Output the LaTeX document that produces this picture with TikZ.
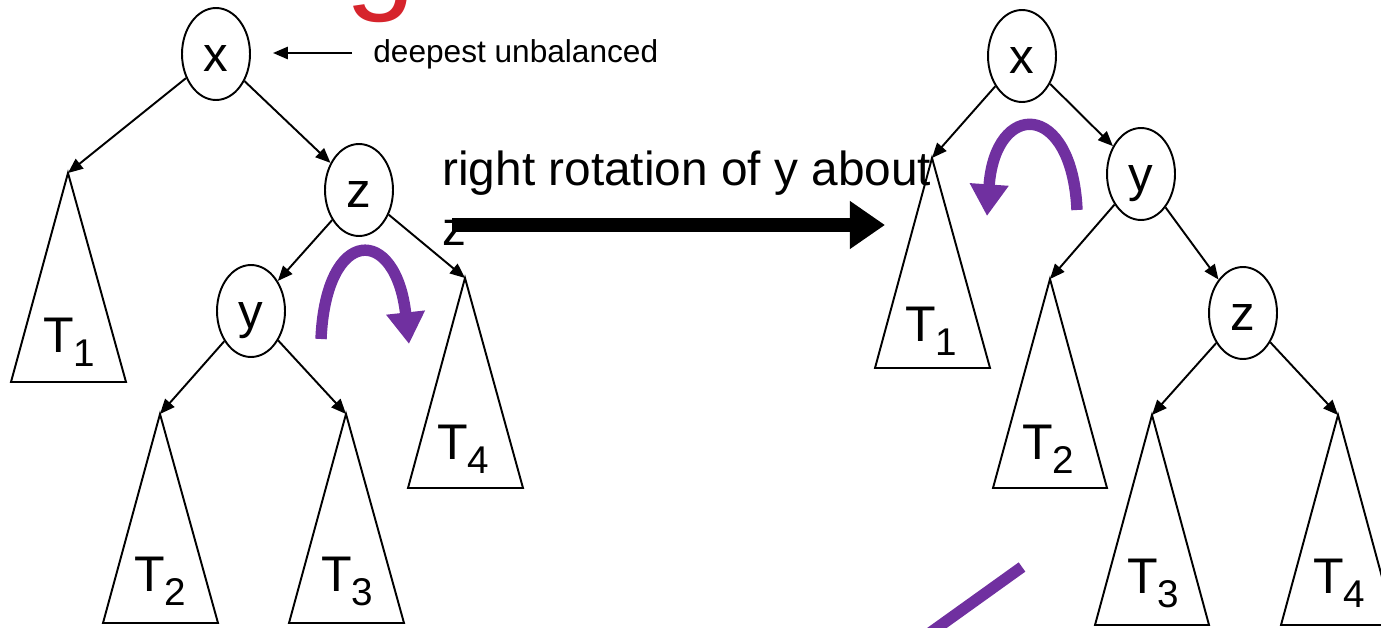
\documentclass[tikz,border=0pt]{standalone}
\usepackage{fontspec}
\setmainfont{Liberation Sans}
\usetikzlibrary{arrows.meta,shapes.geometric}
\definecolor{rotpurple}{RGB}{112,48,160}
\definecolor{titlered}{RGB}{214,36,44}
\newcommand\Tlab[1]{T\raisebox{-8pt}{\fontsize{22}{22}\selectfont #1}}
\begin{document}
\begin{tikzpicture}[x=0.02cm,y=-0.02cm,
 tnode/.style={draw, ellipse, line width=1.1pt, minimum width=1.36cm, minimum height=1.84cm, inner sep=0, text height=20.4pt, text depth=0pt, font=\fontsize{28}{28}\selectfont},
 edge/.style={line width=1.1pt, -{Triangle[length=8.5pt,width=7pt]}},
 subtree/.style={draw, line width=1.1pt, line join=miter},
 tlabel/.style={anchor=base west, inner sep=0, font=\fontsize{28.5}{28.5}\selectfont},
 rot/.style={rotpurple, line width=6.5pt, -{Triangle[length=18pt,width=21pt]}},
]
\useasboundingbox (0,0) rectangle (1381,628);

% partial title letter
\node[anchor=base west, inner sep=0, text=titlered, font=\fontsize{72}{72}\selectfont] (g) at (345,-3) {g};

% ---------- left tree ----------
\node[tnode] (lx) at (216,54) {x};
\node[tnode] (lz) at (359,190) {z};
\node[tnode] (ly) at (251,311) {y};
\coordinate (lt1) at (68,173);
\coordinate (lt2) at (160,414);
\coordinate (lt3) at (346,414);
\coordinate (lt4) at (465,278);
\draw[subtree] (lt1) -- ++(58,209) -- ++(-115,0) -- cycle;
\draw[subtree] (lt2) -- ++(58,209) -- ++(-115,0) -- cycle;
\draw[subtree] (lt3) -- ++(58,209) -- ++(-115,0) -- cycle;
\draw[subtree] (lt4) -- ++(58,210) -- ++(-115,0) -- cycle;
\draw[edge] (lx) -- (lt1);
\draw[edge] (lx) -- (lz);
\draw[edge] (lz) -- (ly);
\draw[edge] (lz) -- (lt4);
\draw[edge] (ly) -- (lt2);
\draw[edge] (ly) -- (lt3);
\node[tlabel] (l1) at (43,352) {\Tlab{1}};
\node[tlabel] (l2) at (134,591) {\Tlab{2}};
\node[tlabel] (l3) at (321,591) {\Tlab{3}};
\node[tlabel] (l4) at (437,459) {\Tlab{4}};

% note
\node[anchor=base west, inner sep=0, font=\fontsize{18}{18}\selectfont] (note) at (373,63) {deepest unbalanced};
\coordinate (noteS) at (352,53);
\coordinate (noteE) at (273,53);
\draw[edge] (noteS) -- (noteE);

% left rotation arrow
\coordinate (la1) at (321,339);
\coordinate (la2) at (409,344);
\draw[rot] (la1) .. controls (326,225) and (396,225) .. (la2);

% ---------- middle ----------
\node[anchor=base west, inner sep=0, align=left, font=\fontsize{27.2}{34}\selectfont] (lbl) at (442,245) {right rotation of y about\\z};
\coordinate (ba1) at (452,225);
\coordinate (ba2) at (885,225);
\draw[line width=8.5pt, -{Triangle[length=20pt,width=26pt]}] (ba1) -- (ba2);

% ---------- right tree ----------
\node[tnode] (rx) at (1022,56) {x};
\node[tnode] (ry) at (1141,174) {y};
\node[tnode] (rz) at (1243,313) {z};
\coordinate (rt1) at (932,158);
\coordinate (rt2) at (1050,279);
\coordinate (rt3) at (1152,415);
\coordinate (rt4) at (1338,415);
\draw[subtree] (rt1) -- ++(58,210) -- ++(-115,0) -- cycle;
\draw[subtree] (rt2) -- ++(57,209) -- ++(-114,0) -- cycle;
\draw[subtree] (rt3) -- ++(57,210) -- ++(-114,0) -- cycle;
\draw[subtree] (rt4) -- ++(57,210) -- ++(-114,0) -- cycle;
\draw[edge] (rx) -- (rt1);
\draw[edge] (rx) -- (ry);
\draw[edge] (ry) -- (rt2);
\draw[edge] (ry) -- (rz);
\draw[edge] (rz) -- (rt3);
\draw[edge] (rz) -- (rt4);
\node[tlabel] (r1) at (905,341) {\Tlab{1}};
\node[tlabel] (r2) at (1022,459) {\Tlab{2}};
\node[tlabel] (r3) at (1127,593) {\Tlab{3}};
\node[tlabel] (r4) at (1313,593) {\Tlab{4}};

% right rotation arrow
\coordinate (ra1) at (1077,210);
\coordinate (ra2) at (987,216);
\draw[rot] (ra1) .. controls (1072,100) and (995,100) .. (ra2);

% stray purple stroke
\coordinate (pl1) at (1022,567);
\coordinate (pl2) at (895,658);
\draw[rotpurple, line width=6.5pt] (pl1) -- (pl2);
\end{tikzpicture}
\end{document}
